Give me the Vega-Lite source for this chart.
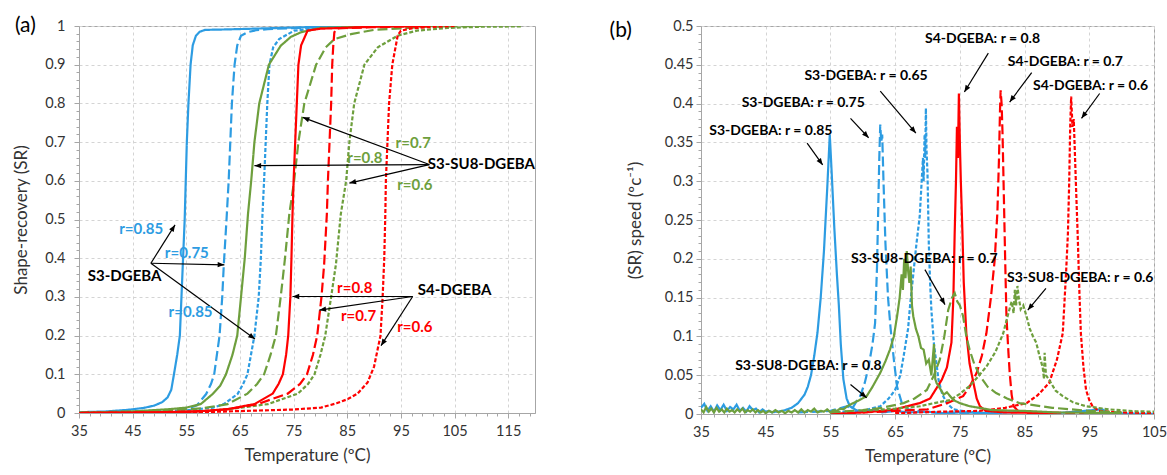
{
"$schema":"https://vega.github.io/schema/vega-lite/v6.json",
"padding":{"left":12,"top":14,"right":0,"bottom":0},
"spacing":73,
"config":{"font":"Lato","view":{"stroke":"#A6A6A6","strokeWidth":1},
 "axis":{"tickCount":200,"domainColor":"#A6A6A6","tickColor":"#A6A6A6","gridColor":"#D4D4D4","gridDash":[3,3],"labelFont":"Lato","labelFontSize":14.5,"labelColor":"#333333","titleFont":"Lato","titleFontSize":17,"titleFontWeight":"normal","titleColor":"#333333","labelOverlap":false,"labelFlush":false}},
"resolve":{"scale":{"x":"independent","y":"independent"}},
"datasets":{
"curvesA":[
{"s":"S3 0.85","T":35,"v":0.002},{"s":"S3 0.85","T":40,"v":0.004},{"s":"S3 0.85","T":44,"v":0.008},{"s":"S3 0.85","T":47,"v":0.013},{"s":"S3 0.85","T":49,"v":0.019},{"s":"S3 0.85","T":50.5,"v":0.028},{"s":"S3 0.85","T":51.5,"v":0.04},{"s":"S3 0.85","T":52.2,"v":0.06},{"s":"S3 0.85","T":52.7,"v":0.1},{"s":"S3 0.85","T":53.3,"v":0.15},{"s":"S3 0.85","T":53.8,"v":0.2},{"s":"S3 0.85","T":54.1,"v":0.3},{"s":"S3 0.85","T":54.4,"v":0.4},{"s":"S3 0.85","T":54.7,"v":0.5},{"s":"S3 0.85","T":54.9,"v":0.6},{"s":"S3 0.85","T":55.1,"v":0.7},{"s":"S3 0.85","T":55.4,"v":0.8},{"s":"S3 0.85","T":55.8,"v":0.9},{"s":"S3 0.85","T":56.2,"v":0.95},{"s":"S3 0.85","T":56.8,"v":0.975},{"s":"S3 0.85","T":57.5,"v":0.985},{"s":"S3 0.85","T":58.5,"v":0.99},{"s":"S3 0.85","T":62,"v":0.991},{"s":"S3 0.85","T":70,"v":0.994},{"s":"S3 0.85","T":80,"v":0.998},{"s":"S3 0.85","T":90,"v":1},
{"s":"S3 0.75","T":35,"v":0.001},{"s":"S3 0.75","T":45,"v":0.004},{"s":"S3 0.75","T":52,"v":0.008},{"s":"S3 0.75","T":55.3,"v":0.012},{"s":"S3 0.75","T":57,"v":0.02},{"s":"S3 0.75","T":58.7,"v":0.049},{"s":"S3 0.75","T":59.6,"v":0.075},{"s":"S3 0.75","T":60.2,"v":0.1},{"s":"S3 0.75","T":61.2,"v":0.2},{"s":"S3 0.75","T":61.7,"v":0.3},{"s":"S3 0.75","T":62,"v":0.385},{"s":"S3 0.75","T":62.5,"v":0.5},{"s":"S3 0.75","T":62.9,"v":0.6},{"s":"S3 0.75","T":63.2,"v":0.7},{"s":"S3 0.75","T":63.5,"v":0.8},{"s":"S3 0.75","T":64,"v":0.9},{"s":"S3 0.75","T":64.5,"v":0.95},{"s":"S3 0.75","T":65.2,"v":0.975},{"s":"S3 0.75","T":66.4,"v":0.984},{"s":"S3 0.75","T":68,"v":0.989},{"s":"S3 0.75","T":70.2,"v":0.992},{"s":"S3 0.75","T":80,"v":0.997},{"s":"S3 0.75","T":90,"v":1},
{"s":"S3 0.65","T":35,"v":0.001},{"s":"S3 0.65","T":45,"v":0.003},{"s":"S3 0.65","T":55,"v":0.007},{"s":"S3 0.65","T":60,"v":0.014},{"s":"S3 0.65","T":62,"v":0.023},{"s":"S3 0.65","T":63.5,"v":0.038},{"s":"S3 0.65","T":64.6,"v":0.05},{"s":"S3 0.65","T":65.6,"v":0.075},{"s":"S3 0.65","T":66.4,"v":0.1},{"s":"S3 0.65","T":67.7,"v":0.2},{"s":"S3 0.65","T":68.5,"v":0.3},{"s":"S3 0.65","T":68.9,"v":0.4},{"s":"S3 0.65","T":69.2,"v":0.514},{"s":"S3 0.65","T":69.5,"v":0.6},{"s":"S3 0.65","T":69.8,"v":0.7},{"s":"S3 0.65","T":70.1,"v":0.8},{"s":"S3 0.65","T":70.5,"v":0.9},{"s":"S3 0.65","T":71.2,"v":0.945},{"s":"S3 0.65","T":72.3,"v":0.966},{"s":"S3 0.65","T":75.1,"v":0.988},{"s":"S3 0.65","T":80,"v":0.995},{"s":"S3 0.65","T":90,"v":1},
{"s":"SU8 0.8","T":35,"v":0.001},{"s":"SU8 0.8","T":45,"v":0.004},{"s":"SU8 0.8","T":52,"v":0.01},{"s":"SU8 0.8","T":55,"v":0.014},{"s":"SU8 0.8","T":57.7,"v":0.023},{"s":"SU8 0.8","T":59.9,"v":0.049},{"s":"SU8 0.8","T":61.3,"v":0.07},{"s":"SU8 0.8","T":62.4,"v":0.1},{"s":"SU8 0.8","T":63.6,"v":0.15},{"s":"SU8 0.8","T":64.5,"v":0.2},{"s":"SU8 0.8","T":65.2,"v":0.3},{"s":"SU8 0.8","T":65.9,"v":0.4},{"s":"SU8 0.8","T":66.5,"v":0.514},{"s":"SU8 0.8","T":67.1,"v":0.6},{"s":"SU8 0.8","T":67.7,"v":0.7},{"s":"SU8 0.8","T":68.6,"v":0.8},{"s":"SU8 0.8","T":70.4,"v":0.9},{"s":"SU8 0.8","T":72.6,"v":0.949},{"s":"SU8 0.8","T":74.5,"v":0.972},{"s":"SU8 0.8","T":76.4,"v":0.984},{"s":"SU8 0.8","T":80,"v":0.995},{"s":"SU8 0.8","T":90,"v":0.999},{"s":"SU8 0.8","T":105,"v":1},
{"s":"SU8 0.7","T":35,"v":0.001},{"s":"SU8 0.7","T":50,"v":0.005},{"s":"SU8 0.7","T":58,"v":0.012},{"s":"SU8 0.7","T":62.7,"v":0.023},{"s":"SU8 0.7","T":66.4,"v":0.05},{"s":"SU8 0.7","T":68.2,"v":0.075},{"s":"SU8 0.7","T":69.5,"v":0.1},{"s":"SU8 0.7","T":70.7,"v":0.15},{"s":"SU8 0.7","T":71.7,"v":0.2},{"s":"SU8 0.7","T":72.6,"v":0.3},{"s":"SU8 0.7","T":73.4,"v":0.4},{"s":"SU8 0.7","T":74.2,"v":0.514},{"s":"SU8 0.7","T":75.1,"v":0.6},{"s":"SU8 0.7","T":75.9,"v":0.7},{"s":"SU8 0.7","T":77,"v":0.8},{"s":"SU8 0.7","T":79.2,"v":0.9},{"s":"SU8 0.7","T":81,"v":0.945},{"s":"SU8 0.7","T":82.6,"v":0.966},{"s":"SU8 0.7","T":85.7,"v":0.979},{"s":"SU8 0.7","T":90,"v":0.99},{"s":"SU8 0.7","T":100,"v":0.998},{"s":"SU8 0.7","T":110,"v":1},
{"s":"SU8 0.6","T":35,"v":0},{"s":"SU8 0.6","T":50,"v":0.002},{"s":"SU8 0.6","T":58,"v":0.005},{"s":"SU8 0.6","T":63,"v":0.01},{"s":"SU8 0.6","T":70.2,"v":0.023},{"s":"SU8 0.6","T":75.8,"v":0.05},{"s":"SU8 0.6","T":77.7,"v":0.075},{"s":"SU8 0.6","T":78.9,"v":0.1},{"s":"SU8 0.6","T":80,"v":0.15},{"s":"SU8 0.6","T":80.9,"v":0.2},{"s":"SU8 0.6","T":82,"v":0.3},{"s":"SU8 0.6","T":82.9,"v":0.385},{"s":"SU8 0.6","T":83.8,"v":0.514},{"s":"SU8 0.6","T":84.8,"v":0.6},{"s":"SU8 0.6","T":85.4,"v":0.7},{"s":"SU8 0.6","T":86.3,"v":0.8},{"s":"SU8 0.6","T":88.2,"v":0.9},{"s":"SU8 0.6","T":90.7,"v":0.945},{"s":"SU8 0.6","T":94.4,"v":0.975},{"s":"SU8 0.6","T":98,"v":0.988},{"s":"SU8 0.6","T":103.7,"v":0.995},{"s":"SU8 0.6","T":110,"v":0.998},{"s":"SU8 0.6","T":117.4,"v":0.999},
{"s":"S4 0.8","T":35,"v":0},{"s":"S4 0.8","T":50,"v":0.002},{"s":"S4 0.8","T":58,"v":0.005},{"s":"S4 0.8","T":62.7,"v":0.01},{"s":"S4 0.8","T":67.7,"v":0.023},{"s":"S4 0.8","T":71.1,"v":0.05},{"s":"S4 0.8","T":72.2,"v":0.075},{"s":"S4 0.8","T":73,"v":0.1},{"s":"S4 0.8","T":73.6,"v":0.15},{"s":"S4 0.8","T":74,"v":0.2},{"s":"S4 0.8","T":74.4,"v":0.3},{"s":"S4 0.8","T":74.6,"v":0.4},{"s":"S4 0.8","T":74.8,"v":0.514},{"s":"S4 0.8","T":75,"v":0.6},{"s":"S4 0.8","T":75.3,"v":0.7},{"s":"S4 0.8","T":75.6,"v":0.8},{"s":"S4 0.8","T":75.9,"v":0.9},{"s":"S4 0.8","T":76.4,"v":0.95},{"s":"S4 0.8","T":77.6,"v":0.988},{"s":"S4 0.8","T":80,"v":0.993},{"s":"S4 0.8","T":90,"v":0.998},{"s":"S4 0.8","T":100,"v":1},
{"s":"S4 0.7","T":35,"v":0},{"s":"S4 0.7","T":50,"v":0.001},{"s":"S4 0.7","T":58,"v":0.004},{"s":"S4 0.7","T":63,"v":0.01},{"s":"S4 0.7","T":68.3,"v":0.023},{"s":"S4 0.7","T":73.9,"v":0.05},{"s":"S4 0.7","T":76.2,"v":0.075},{"s":"S4 0.7","T":77.5,"v":0.1},{"s":"S4 0.7","T":78.6,"v":0.15},{"s":"S4 0.7","T":79.4,"v":0.2},{"s":"S4 0.7","T":80.2,"v":0.3},{"s":"S4 0.7","T":80.7,"v":0.385},{"s":"S4 0.7","T":81.2,"v":0.514},{"s":"S4 0.7","T":81.4,"v":0.6},{"s":"S4 0.7","T":81.7,"v":0.7},{"s":"S4 0.7","T":82,"v":0.8},{"s":"S4 0.7","T":82.2,"v":0.9},{"s":"S4 0.7","T":82.4,"v":0.95},{"s":"S4 0.7","T":82.6,"v":0.984},{"s":"S4 0.7","T":83.2,"v":0.994},{"s":"S4 0.7","T":90,"v":0.997},{"s":"S4 0.7","T":100,"v":1},
{"s":"S4 0.6","T":35,"v":0},{"s":"S4 0.6","T":55,"v":0.001},{"s":"S4 0.6","T":65,"v":0.005},{"s":"S4 0.6","T":75,"v":0.009},{"s":"S4 0.6","T":80.1,"v":0.014},{"s":"S4 0.6","T":83,"v":0.025},{"s":"S4 0.6","T":85.1,"v":0.036},{"s":"S4 0.6","T":86.9,"v":0.05},{"s":"S4 0.6","T":88.8,"v":0.079},{"s":"S4 0.6","T":90,"v":0.12},{"s":"S4 0.6","T":90.6,"v":0.16},{"s":"S4 0.6","T":91.2,"v":0.2},{"s":"S4 0.6","T":91.6,"v":0.3},{"s":"S4 0.6","T":91.9,"v":0.4},{"s":"S4 0.6","T":92.1,"v":0.514},{"s":"S4 0.6","T":92.2,"v":0.6},{"s":"S4 0.6","T":92.5,"v":0.7},{"s":"S4 0.6","T":92.8,"v":0.8},{"s":"S4 0.6","T":93.4,"v":0.9},{"s":"S4 0.6","T":94.4,"v":0.975},{"s":"S4 0.6","T":95,"v":0.988},{"s":"S4 0.6","T":97,"v":0.994},{"s":"S4 0.6","T":100,"v":0.997},{"s":"S4 0.6","T":105,"v":1}
],
"curvesB":[
{"s":"S3 0.85","T":35,"v":0.008},{"s":"S3 0.85","T":35.5,"v":0.013},{"s":"S3 0.85","T":36,"v":0.004},{"s":"S3 0.85","T":36.5,"v":0.01},{"s":"S3 0.85","T":37,"v":0.003},{"s":"S3 0.85","T":37.5,"v":0.011},{"s":"S3 0.85","T":38,"v":0.005},{"s":"S3 0.85","T":38.5,"v":0.012},{"s":"S3 0.85","T":39,"v":0.004},{"s":"S3 0.85","T":39.5,"v":0.009},{"s":"S3 0.85","T":40,"v":0.006},{"s":"S3 0.85","T":40.5,"v":0.012},{"s":"S3 0.85","T":41,"v":0.004},{"s":"S3 0.85","T":41.5,"v":0.008},{"s":"S3 0.85","T":42,"v":0.003},{"s":"S3 0.85","T":42.5,"v":0.01},{"s":"S3 0.85","T":43,"v":0.005},{"s":"S3 0.85","T":43.5,"v":0.007},{"s":"S3 0.85","T":44,"v":0.002},{"s":"S3 0.85","T":44.5,"v":0.006},{"s":"S3 0.85","T":45,"v":0.003},{"s":"S3 0.85","T":45.5,"v":0.004},{"s":"S3 0.85","T":46,"v":0.002},{"s":"S3 0.85","T":46.5,"v":0.003},{"s":"S3 0.85","T":47,"v":0.003},{"s":"S3 0.85","T":48,"v":0.005},{"s":"S3 0.85","T":49,"v":0.008},{"s":"S3 0.85","T":50,"v":0.014},{"s":"S3 0.85","T":51,"v":0.025},{"s":"S3 0.85","T":51.5,"v":0.035},{"s":"S3 0.85","T":52,"v":0.05},{"s":"S3 0.85","T":52.5,"v":0.075},{"s":"S3 0.85","T":53,"v":0.105},{"s":"S3 0.85","T":53.5,"v":0.15},{"s":"S3 0.85","T":54,"v":0.21},{"s":"S3 0.85","T":54.5,"v":0.29},{"s":"S3 0.85","T":54.9,"v":0.36},{"s":"S3 0.85","T":55.2,"v":0.31},{"s":"S3 0.85","T":55.6,"v":0.24},{"s":"S3 0.85","T":56,"v":0.18},{"s":"S3 0.85","T":56.3,"v":0.14},{"s":"S3 0.85","T":56.6,"v":0.09},{"s":"S3 0.85","T":57,"v":0.045},{"s":"S3 0.85","T":57.5,"v":0.02},{"s":"S3 0.85","T":58,"v":0.01},{"s":"S3 0.85","T":59,"v":0.005},{"s":"S3 0.85","T":60,"v":0.003},{"s":"S3 0.85","T":62,"v":0.006},{"s":"S3 0.85","T":63,"v":0.002},{"s":"S3 0.85","T":65,"v":0.004},{"s":"S3 0.85","T":67,"v":0.002},{"s":"S3 0.85","T":70,"v":0.003},{"s":"S3 0.85","T":72,"v":0.001},{"s":"S3 0.85","T":75,"v":0.002},{"s":"S3 0.85","T":80,"v":0.001},{"s":"S3 0.85","T":85,"v":0.003},{"s":"S3 0.85","T":90,"v":0.001},{"s":"S3 0.85","T":97,"v":0.006},{"s":"S3 0.85","T":98,"v":0.001},{"s":"S3 0.85","T":105,"v":0},
{"s":"S3 0.75","T":50,"v":0.002},{"s":"S3 0.75","T":55,"v":0.004},{"s":"S3 0.75","T":57.6,"v":0.01},{"s":"S3 0.75","T":58.3,"v":0.006},{"s":"S3 0.75","T":59,"v":0.016},{"s":"S3 0.75","T":59.6,"v":0.023},{"s":"S3 0.75","T":60.3,"v":0.04},{"s":"S3 0.75","T":60.9,"v":0.061},{"s":"S3 0.75","T":61.5,"v":0.09},{"s":"S3 0.75","T":61.9,"v":0.117},{"s":"S3 0.75","T":62.2,"v":0.19},{"s":"S3 0.75","T":62.4,"v":0.27},{"s":"S3 0.75","T":62.55,"v":0.33},{"s":"S3 0.75","T":62.7,"v":0.373},{"s":"S3 0.75","T":62.85,"v":0.35},{"s":"S3 0.75","T":63,"v":0.36},{"s":"S3 0.75","T":63.2,"v":0.3},{"s":"S3 0.75","T":63.5,"v":0.22},{"s":"S3 0.75","T":63.9,"v":0.15},{"s":"S3 0.75","T":64.3,"v":0.11},{"s":"S3 0.75","T":64.8,"v":0.07},{"s":"S3 0.75","T":65.3,"v":0.035},{"s":"S3 0.75","T":66,"v":0.015},{"s":"S3 0.75","T":67,"v":0.006},{"s":"S3 0.75","T":70,"v":0.002},{"s":"S3 0.75","T":80,"v":0.001},
{"s":"S3 0.65","T":55,"v":0.002},{"s":"S3 0.65","T":60,"v":0.004},{"s":"S3 0.65","T":62.7,"v":0.01},{"s":"S3 0.65","T":64,"v":0.02},{"s":"S3 0.65","T":65,"v":0.031},{"s":"S3 0.65","T":65.8,"v":0.05},{"s":"S3 0.65","T":66.3,"v":0.074},{"s":"S3 0.65","T":67,"v":0.11},{"s":"S3 0.65","T":67.3,"v":0.139},{"s":"S3 0.65","T":67.8,"v":0.18},{"s":"S3 0.65","T":68.3,"v":0.22},{"s":"S3 0.65","T":68.8,"v":0.255},{"s":"S3 0.65","T":69.1,"v":0.3},{"s":"S3 0.65","T":69.3,"v":0.33},{"s":"S3 0.65","T":69.4,"v":0.3},{"s":"S3 0.65","T":69.55,"v":0.36},{"s":"S3 0.65","T":69.65,"v":0.33},{"s":"S3 0.65","T":69.75,"v":0.394},{"s":"S3 0.65","T":69.85,"v":0.34},{"s":"S3 0.65","T":70,"v":0.31},{"s":"S3 0.65","T":70.2,"v":0.22},{"s":"S3 0.65","T":70.4,"v":0.17},{"s":"S3 0.65","T":70.6,"v":0.134},{"s":"S3 0.65","T":71,"v":0.09},{"s":"S3 0.65","T":71.7,"v":0.044},{"s":"S3 0.65","T":72.3,"v":0.025},{"s":"S3 0.65","T":73,"v":0.014},{"s":"S3 0.65","T":74,"v":0.006},{"s":"S3 0.65","T":76,"v":0.003},{"s":"S3 0.65","T":80,"v":0.001},
{"s":"S4 0.8","T":55,"v":0},{"s":"S4 0.8","T":60,"v":0.002},{"s":"S4 0.8","T":63,"v":0.004},{"s":"S4 0.8","T":65,"v":0.006},{"s":"S4 0.8","T":67.8,"v":0.012},{"s":"S4 0.8","T":68.8,"v":0.014},{"s":"S4 0.8","T":70.4,"v":0.02},{"s":"S4 0.8","T":72.2,"v":0.044},{"s":"S4 0.8","T":73,"v":0.06},{"s":"S4 0.8","T":73.7,"v":0.092},{"s":"S4 0.8","T":74,"v":0.15},{"s":"S4 0.8","T":74.2,"v":0.233},{"s":"S4 0.8","T":74.4,"v":0.3},{"s":"S4 0.8","T":74.55,"v":0.37},{"s":"S4 0.8","T":74.7,"v":0.33},{"s":"S4 0.8","T":74.85,"v":0.413},{"s":"S4 0.8","T":75,"v":0.35},{"s":"S4 0.8","T":75.15,"v":0.3},{"s":"S4 0.8","T":75.3,"v":0.26},{"s":"S4 0.8","T":75.4,"v":0.233},{"s":"S4 0.8","T":75.6,"v":0.17},{"s":"S4 0.8","T":76,"v":0.104},{"s":"S4 0.8","T":76.5,"v":0.065},{"s":"S4 0.8","T":77.1,"v":0.04},{"s":"S4 0.8","T":77.6,"v":0.02},{"s":"S4 0.8","T":78.1,"v":0.01},{"s":"S4 0.8","T":79,"v":0.004},{"s":"S4 0.8","T":82,"v":0.002},{"s":"S4 0.8","T":90,"v":0.001},
{"s":"S4 0.7","T":60,"v":0.002},{"s":"S4 0.7","T":65,"v":0.004},{"s":"S4 0.7","T":70,"v":0.006},{"s":"S4 0.7","T":73,"v":0.014},{"s":"S4 0.7","T":75.5,"v":0.023},{"s":"S4 0.7","T":76.5,"v":0.035},{"s":"S4 0.7","T":77.6,"v":0.053},{"s":"S4 0.7","T":78.4,"v":0.075},{"s":"S4 0.7","T":79.1,"v":0.104},{"s":"S4 0.7","T":79.8,"v":0.15},{"s":"S4 0.7","T":80.4,"v":0.2},{"s":"S4 0.7","T":80.8,"v":0.26},{"s":"S4 0.7","T":81.05,"v":0.33},{"s":"S4 0.7","T":81.2,"v":0.39},{"s":"S4 0.7","T":81.3,"v":0.417},{"s":"S4 0.7","T":81.45,"v":0.4},{"s":"S4 0.7","T":81.6,"v":0.36},{"s":"S4 0.7","T":81.8,"v":0.28},{"s":"S4 0.7","T":82,"v":0.2},{"s":"S4 0.7","T":82.2,"v":0.126},{"s":"S4 0.7","T":82.5,"v":0.08},{"s":"S4 0.7","T":82.7,"v":0.053},{"s":"S4 0.7","T":83,"v":0.025},{"s":"S4 0.7","T":83.3,"v":0.01},{"s":"S4 0.7","T":84,"v":0.004},{"s":"S4 0.7","T":88,"v":0.002},{"s":"S4 0.7","T":95,"v":0.001},
{"s":"S4 0.6","T":65,"v":0.001},{"s":"S4 0.6","T":72,"v":0.003},{"s":"S4 0.6","T":78,"v":0.004},{"s":"S4 0.6","T":82,"v":0.008},{"s":"S4 0.6","T":85.3,"v":0.014},{"s":"S4 0.6","T":87,"v":0.024},{"s":"S4 0.6","T":88.8,"v":0.04},{"s":"S4 0.6","T":90,"v":0.07},{"s":"S4 0.6","T":90.9,"v":0.104},{"s":"S4 0.6","T":91.4,"v":0.18},{"s":"S4 0.6","T":91.7,"v":0.233},{"s":"S4 0.6","T":91.9,"v":0.3},{"s":"S4 0.6","T":92.05,"v":0.37},{"s":"S4 0.6","T":92.2,"v":0.409},{"s":"S4 0.6","T":92.4,"v":0.37},{"s":"S4 0.6","T":92.6,"v":0.38},{"s":"S4 0.6","T":92.8,"v":0.33},{"s":"S4 0.6","T":93,"v":0.28},{"s":"S4 0.6","T":93.2,"v":0.233},{"s":"S4 0.6","T":93.5,"v":0.15},{"s":"S4 0.6","T":93.7,"v":0.104},{"s":"S4 0.6","T":94.1,"v":0.06},{"s":"S4 0.6","T":94.5,"v":0.031},{"s":"S4 0.6","T":95,"v":0.018},{"s":"S4 0.6","T":95.5,"v":0.01},{"s":"S4 0.6","T":96.5,"v":0.004},{"s":"S4 0.6","T":100,"v":0.002},{"s":"S4 0.6","T":105,"v":0.001},
{"s":"SU8 0.8","T":35,"v":0.006},{"s":"SU8 0.8","T":35.4,"v":0.002},{"s":"SU8 0.8","T":35.8,"v":0.009},{"s":"SU8 0.8","T":36.2,"v":0.003},{"s":"SU8 0.8","T":36.6,"v":0.007},{"s":"SU8 0.8","T":37,"v":0.002},{"s":"SU8 0.8","T":37.4,"v":0.008},{"s":"SU8 0.8","T":37.8,"v":0.003},{"s":"SU8 0.8","T":38.2,"v":0.006},{"s":"SU8 0.8","T":38.6,"v":0.002},{"s":"SU8 0.8","T":39,"v":0.007},{"s":"SU8 0.8","T":39.4,"v":0.003},{"s":"SU8 0.8","T":39.8,"v":0.005},{"s":"SU8 0.8","T":40.2,"v":0.002},{"s":"SU8 0.8","T":40.6,"v":0.006},{"s":"SU8 0.8","T":41,"v":0.003},{"s":"SU8 0.8","T":41.4,"v":0.007},{"s":"SU8 0.8","T":41.8,"v":0.002},{"s":"SU8 0.8","T":42.2,"v":0.005},{"s":"SU8 0.8","T":42.6,"v":0.003},{"s":"SU8 0.8","T":43,"v":0.006},{"s":"SU8 0.8","T":43.4,"v":0.002},{"s":"SU8 0.8","T":43.8,"v":0.005},{"s":"SU8 0.8","T":44.2,"v":0.002},{"s":"SU8 0.8","T":44.6,"v":0.004},{"s":"SU8 0.8","T":45,"v":0.001},{"s":"SU8 0.8","T":45.5,"v":0.004},{"s":"SU8 0.8","T":46,"v":0.002},{"s":"SU8 0.8","T":46.5,"v":0.005},{"s":"SU8 0.8","T":47,"v":0.002},{"s":"SU8 0.8","T":47.5,"v":0.004},{"s":"SU8 0.8","T":48,"v":0.001},{"s":"SU8 0.8","T":48.5,"v":0.004},{"s":"SU8 0.8","T":49,"v":0.002},{"s":"SU8 0.8","T":49.5,"v":0.005},{"s":"SU8 0.8","T":50,"v":0.002},{"s":"SU8 0.8","T":50.5,"v":0.006},{"s":"SU8 0.8","T":51,"v":0.002},{"s":"SU8 0.8","T":51.5,"v":0.005},{"s":"SU8 0.8","T":52,"v":0.003},{"s":"SU8 0.8","T":52.5,"v":0.007},{"s":"SU8 0.8","T":53,"v":0.002},{"s":"SU8 0.8","T":53.5,"v":0.004},{"s":"SU8 0.8","T":54,"v":0.003},{"s":"SU8 0.8","T":54.5,"v":0.006},{"s":"SU8 0.8","T":55,"v":0.002},{"s":"SU8 0.8","T":55.5,"v":0.005},{"s":"SU8 0.8","T":56,"v":0.004},{"s":"SU8 0.8","T":56.5,"v":0.007},{"s":"SU8 0.8","T":57,"v":0.006},{"s":"SU8 0.8","T":57.6,"v":0.01},{"s":"SU8 0.8","T":58.5,"v":0.014},{"s":"SU8 0.8","T":59.5,"v":0.018},{"s":"SU8 0.8","T":60.6,"v":0.023},{"s":"SU8 0.8","T":61.5,"v":0.035},{"s":"SU8 0.8","T":62.7,"v":0.053},{"s":"SU8 0.8","T":63.5,"v":0.068},{"s":"SU8 0.8","T":64.2,"v":0.083},{"s":"SU8 0.8","T":64.8,"v":0.1},{"s":"SU8 0.8","T":65.3,"v":0.126},{"s":"SU8 0.8","T":65.7,"v":0.15},{"s":"SU8 0.8","T":66,"v":0.18},{"s":"SU8 0.8","T":66.2,"v":0.16},{"s":"SU8 0.8","T":66.4,"v":0.2},{"s":"SU8 0.8","T":66.6,"v":0.175},{"s":"SU8 0.8","T":66.8,"v":0.21},{"s":"SU8 0.8","T":67,"v":0.185},{"s":"SU8 0.8","T":67.2,"v":0.169},{"s":"SU8 0.8","T":67.4,"v":0.19},{"s":"SU8 0.8","T":67.6,"v":0.14},{"s":"SU8 0.8","T":67.8,"v":0.126},{"s":"SU8 0.8","T":68.2,"v":0.11},{"s":"SU8 0.8","T":68.6,"v":0.1},{"s":"SU8 0.8","T":69,"v":0.085},{"s":"SU8 0.8","T":69.4,"v":0.083},{"s":"SU8 0.8","T":69.8,"v":0.065},{"s":"SU8 0.8","T":70.2,"v":0.07},{"s":"SU8 0.8","T":70.6,"v":0.05},{"s":"SU8 0.8","T":71,"v":0.09},{"s":"SU8 0.8","T":71.2,"v":0.045},{"s":"SU8 0.8","T":71.4,"v":0.04},{"s":"SU8 0.8","T":72,"v":0.032},{"s":"SU8 0.8","T":72.5,"v":0.025},{"s":"SU8 0.8","T":73,"v":0.028},{"s":"SU8 0.8","T":74,"v":0.018},{"s":"SU8 0.8","T":75,"v":0.014},{"s":"SU8 0.8","T":76.5,"v":0.01},{"s":"SU8 0.8","T":78,"v":0.008},{"s":"SU8 0.8","T":80,"v":0.005},{"s":"SU8 0.8","T":85,"v":0.004},{"s":"SU8 0.8","T":90,"v":0.002},{"s":"SU8 0.8","T":100,"v":0.001},
{"s":"SU8 0.7","T":55,"v":0.002},{"s":"SU8 0.7","T":60,"v":0.005},{"s":"SU8 0.7","T":63,"v":0.008},{"s":"SU8 0.7","T":66.3,"v":0.014},{"s":"SU8 0.7","T":68,"v":0.02},{"s":"SU8 0.7","T":69.9,"v":0.031},{"s":"SU8 0.7","T":71,"v":0.05},{"s":"SU8 0.7","T":71.9,"v":0.07},{"s":"SU8 0.7","T":72.6,"v":0.1},{"s":"SU8 0.7","T":73.2,"v":0.134},{"s":"SU8 0.7","T":73.8,"v":0.15},{"s":"SU8 0.7","T":74.2,"v":0.156},{"s":"SU8 0.7","T":74.6,"v":0.145},{"s":"SU8 0.7","T":75,"v":0.14},{"s":"SU8 0.7","T":75.5,"v":0.126},{"s":"SU8 0.7","T":76,"v":0.1},{"s":"SU8 0.7","T":76.5,"v":0.083},{"s":"SU8 0.7","T":77.2,"v":0.065},{"s":"SU8 0.7","T":78.1,"v":0.049},{"s":"SU8 0.7","T":79.3,"v":0.035},{"s":"SU8 0.7","T":80.6,"v":0.027},{"s":"SU8 0.7","T":82.3,"v":0.02},{"s":"SU8 0.7","T":84.2,"v":0.014},{"s":"SU8 0.7","T":89.3,"v":0.008},{"s":"SU8 0.7","T":95,"v":0.004},{"s":"SU8 0.7","T":100,"v":0.002},
{"s":"SU8 0.6","T":60,"v":0.004},{"s":"SU8 0.6","T":65,"v":0.007},{"s":"SU8 0.6","T":68.8,"v":0.01},{"s":"SU8 0.6","T":71,"v":0.014},{"s":"SU8 0.6","T":73.5,"v":0.018},{"s":"SU8 0.6","T":75,"v":0.026},{"s":"SU8 0.6","T":76.5,"v":0.036},{"s":"SU8 0.6","T":78,"v":0.05},{"s":"SU8 0.6","T":79.1,"v":0.061},{"s":"SU8 0.6","T":80.5,"v":0.08},{"s":"SU8 0.6","T":81.7,"v":0.104},{"s":"SU8 0.6","T":82.5,"v":0.13},{"s":"SU8 0.6","T":83,"v":0.145},{"s":"SU8 0.6","T":83.3,"v":0.13},{"s":"SU8 0.6","T":83.5,"v":0.16},{"s":"SU8 0.6","T":83.7,"v":0.14},{"s":"SU8 0.6","T":83.9,"v":0.165},{"s":"SU8 0.6","T":84.1,"v":0.15},{"s":"SU8 0.6","T":84.4,"v":0.135},{"s":"SU8 0.6","T":84.8,"v":0.14},{"s":"SU8 0.6","T":85.3,"v":0.126},{"s":"SU8 0.6","T":85.8,"v":0.11},{"s":"SU8 0.6","T":86.3,"v":0.1},{"s":"SU8 0.6","T":86.8,"v":0.092},{"s":"SU8 0.6","T":87.3,"v":0.075},{"s":"SU8 0.6","T":87.8,"v":0.06},{"s":"SU8 0.6","T":88,"v":0.045},{"s":"SU8 0.6","T":88.1,"v":0.079},{"s":"SU8 0.6","T":88.3,"v":0.05},{"s":"SU8 0.6","T":88.8,"v":0.044},{"s":"SU8 0.6","T":89.8,"v":0.03},{"s":"SU8 0.6","T":90.9,"v":0.023},{"s":"SU8 0.6","T":92.5,"v":0.015},{"s":"SU8 0.6","T":94.5,"v":0.01},{"s":"SU8 0.6","T":98,"v":0.006},{"s":"SU8 0.6","T":102.2,"v":0.0035},{"s":"SU8 0.6","T":105,"v":0.003}
],
"labA":[
{"t":"S3-DGEBA","g":"note","T":43.5,"v":0.354},
{"t":"r=0.85","g":"S3","T":46.6,"v":0.475},
{"t":"r=0.75","g":"S3","T":55.1,"v":0.413},
{"t":"r=0.85","g":"S3","T":55.8,"v":0.262},
{"t":"S3-SU8-DGEBA","g":"note","T":110,"v":0.643},
{"t":"r=0.7","g":"SU8","T":97.3,"v":0.698},
{"t":"r=0.8","g":"SU8","T":88.3,"v":0.658},
{"t":"r=0.6","g":"SU8","T":97.6,"v":0.59},
{"t":"S4-DGEBA","g":"note","T":105,"v":0.318},
{"t":"r=0.8","g":"S4","T":86.4,"v":0.323},
{"t":"r=0.7","g":"S4","T":87.1,"v":0.251},
{"t":"r=0.6","g":"S4","T":97.6,"v":0.221}
],
"arrA":[
{"T":48.4,"v":0.387,"T2":52.9,"v2":0.486},
{"T":48.4,"v":0.387,"T2":62.1,"v2":0.383},
{"T":48.4,"v":0.387,"T2":67.8,"v2":0.191},
{"T":100.3,"v":0.642,"T2":76.7,"v2":0.764},
{"T":100.3,"v":0.642,"T2":67.7,"v2":0.639},
{"T":100.3,"v":0.642,"T2":85.4,"v2":0.594},
{"T":97.2,"v":0.301,"T2":74.8,"v2":0.301},
{"T":97.2,"v":0.301,"T2":79.8,"v2":0.266},
{"T":97.2,"v":0.301,"T2":91.3,"v2":0.174}
],
"labB":[
{"t":"S3-DGEBA: r = 0.85","g":"note","T":45.8,"v":0.365},
{"t":"S3-DGEBA: r = 0.75","g":"note","T":50.8,"v":0.401},
{"t":"S3-DGEBA: r = 0.65","g":"note","T":60.5,"v":0.436},
{"t":"S4-DGEBA: r = 0.8","g":"note","T":78.5,"v":0.483},
{"t":"S4-DGEBA: r = 0.7","g":"note","T":91.3,"v":0.454},
{"t":"S4-DGEBA: r = 0.6","g":"note","T":95.2,"v":0.423},
{"t":"S3-SU8-DGEBA: r = 0.8","g":"note","T":51.6,"v":0.0615},
{"t":"S3-SU8-DGEBA: r = 0.7","g":"note","T":69.5,"v":0.2},
{"t":"S3-SU8-DGEBA: r = 0.6","g":"note","T":93.6,"v":0.175}
],
"arrB":[
{"T":51.4,"v":0.349,"T2":53.8,"v2":0.321},
{"T":58.1,"v":0.381,"T2":60.9,"v2":0.356},
{"T":62.7,"v":0.416,"T2":68.2,"v2":0.362},
{"T":79.4,"v":0.465,"T2":75.7,"v2":0.415},
{"T":86.1,"v":0.44,"T2":82.7,"v2":0.402},
{"T":96.6,"v":0.413,"T2":93.8,"v2":0.381},
{"T":58.1,"v":0.038,"T2":60.6,"v2":0.021},
{"T":69.6,"v":0.186,"T2":72.7,"v2":0.141},
{"T":88.3,"v":0.162,"T2":85.5,"v2":0.134}
]
},
"hconcat":[
{
"width":456,"height":387,
"layer":[
{"data":{"name":"curvesA"},"mark":{"type":"line","strokeWidth":2.2,"clip":true},
 "encoding":{
  "x":{"field":"T","type":"quantitative","title":"Temperature (ºC)","scale":{"domain":[35,120],"nice":false,"zero":false},
   "axis":{"tickCount":200,"values":[35,37,39,41,43,45,47,49,51,53,55,57,59,61,63,65,67,69,71,73,75,77,79,81,83,85,87,89,91,93,95,97,99,101,103,105,107,109,111,113,115,117,119],
    "labelExpr":"(datum.value-35)%10==0 ? format(datum.value,'d') : ''",
    "tickSize":{"condition":{"test":"(datum.value-35)%10==0","value":5},"value":3},
    "gridOpacity":{"condition":{"test":"(datum.value-35)%10==0","value":1},"value":0},
    "labelPadding":6,"titlePadding":10}},
  "y":{"field":"v","type":"quantitative","title":"Shape-recovery (SR)","scale":{"domain":[0,1],"nice":false},
   "axis":{"tickCount":200,"values":[0,0.02,0.04,0.06,0.08,0.1,0.12,0.14,0.16,0.18,0.2,0.22,0.24,0.26,0.28,0.3,0.32,0.34,0.36,0.38,0.4,0.42,0.44,0.46,0.48,0.5,0.52,0.54,0.56,0.58,0.6,0.62,0.64,0.66,0.68,0.7,0.72,0.74,0.76,0.78,0.8,0.82,0.84,0.86,0.88,0.9,0.92,0.94,0.96,0.98,1],
    "labelExpr":"abs(datum.value*10-round(datum.value*10))<0.000001 ? format(datum.value,'~g') : ''",
    "tickSize":{"condition":{"test":"abs(datum.value*10-round(datum.value*10))<0.000001","value":5},"value":3},
    "gridOpacity":{"condition":{"test":"abs(datum.value*10-round(datum.value*10))<0.000001","value":1},"value":0},
    "labelPadding":9,"titlePadding":14}},
  "color":{"field":"s","type":"nominal","legend":null,"scale":{"domain":["S3 0.85","S3 0.75","S3 0.65","SU8 0.8","SU8 0.7","SU8 0.6","S4 0.8","S4 0.7","S4 0.6"],"range":["#2D9CE2","#2D9CE2","#2D9CE2","#6E9F3D","#6E9F3D","#6E9F3D","#FF0000","#FF0000","#FF0000"]}},
  "strokeDash":{"field":"s","type":"nominal","legend":null,"scale":{"domain":["S3 0.85","S3 0.75","S3 0.65","SU8 0.8","SU8 0.7","SU8 0.6","S4 0.8","S4 0.7","S4 0.6"],"range":[[1,0],[10,4],[4,2],[1,0],[10,4],[4,2],[1,0],[10,4],[4,2]]}}
 }},
{"data":{"name":"arrA"},"mark":{"type":"rule","color":"#000000","strokeWidth":1.2},
 "encoding":{"x":{"field":"T","type":"quantitative","title":"Temperature (ºC)"},"y":{"field":"v","type":"quantitative","title":"Shape-recovery (SR)"},"x2":{"field":"T2"},"y2":{"field":"v2"}}},
{"data":{"name":"arrA"},"mark":{"type":"point","filled":true,"color":"#000000","opacity":1,"size":180,"shape":"M0,0L0.4,1L-0.4,1Z","angle":{"expr":"atan2((datum.T2-datum.T)*5.365,(datum.v2-datum.v)*387)*180/PI"}},
 "encoding":{"x":{"field":"T2","type":"quantitative","title":"Temperature (ºC)"},"y":{"field":"v2","type":"quantitative","title":"Shape-recovery (SR)"}}},
{"data":{"name":"labA"},"mark":{"type":"text","fontWeight":"bold","fontSize":15,"font":"Lato","align":"center","baseline":"middle"},
 "encoding":{"x":{"field":"T","type":"quantitative","title":"Temperature (ºC)"},"y":{"field":"v","type":"quantitative","title":"Shape-recovery (SR)"},"text":{"field":"t"},
  "fill":{"field":"g","type":"nominal","legend":null,"scale":{"domain":["S3","SU8","S4","note"],"range":["#2D9CE2","#6E9F3D","#FF0000","#000000"]}}}},
{"data":{"values":[{"t":"(a)","T":25,"v":1.0}]},"mark":{"type":"text","fontSize":21,"font":"Lato","align":"center","baseline":"middle","color":"#000000"},
 "encoding":{"x":{"field":"T","type":"quantitative","title":"Temperature (ºC)"},"y":{"field":"v","type":"quantitative","title":"Shape-recovery (SR)"},"text":{"field":"t"}}}
]
},
{
"width":453,"height":388,
"layer":[
{"data":{"name":"curvesB"},"mark":{"type":"line","strokeWidth":2.2,"clip":true},
 "encoding":{
  "x":{"field":"T","type":"quantitative","title":"Temperature (ºC)","scale":{"domain":[35,105],"nice":false,"zero":false},
   "axis":{"tickCount":200,"values":[35,37,39,41,43,45,47,49,51,53,55,57,59,61,63,65,67,69,71,73,75,77,79,81,83,85,87,89,91,93,95,97,99,101,103,105],
    "labelExpr":"(datum.value-35)%10==0 ? format(datum.value,'d') : ''",
    "tickSize":{"condition":{"test":"(datum.value-35)%10==0","value":5},"value":3},
    "gridOpacity":{"condition":{"test":"(datum.value-35)%10==0","value":1},"value":0},
    "labelPadding":6,"titlePadding":10}},
  "y":{"field":"v","type":"quantitative","title":"(SR) speed (ºc⁻¹)","scale":{"domain":[0,0.5],"nice":false},
   "axis":{"tickCount":200,"values":[0,0.01,0.02,0.03,0.04,0.05,0.06,0.07,0.08,0.09,0.1,0.11,0.12,0.13,0.14,0.15,0.16,0.17,0.18,0.19,0.2,0.21,0.22,0.23,0.24,0.25,0.26,0.27,0.28,0.29,0.3,0.31,0.32,0.33,0.34,0.35,0.36,0.37,0.38,0.39,0.4,0.41,0.42,0.43,0.44,0.45,0.46,0.47,0.48,0.49,0.5],
    "labelExpr":"abs(datum.value*20-round(datum.value*20))<0.000001 ? format(datum.value,'~g') : ''",
    "tickSize":{"condition":{"test":"abs(datum.value*20-round(datum.value*20))<0.000001","value":5},"value":3},
    "gridOpacity":{"condition":{"test":"abs(datum.value*20-round(datum.value*20))<0.000001","value":1},"value":0},
    "labelPadding":3,"titlePadding":20}},
  "color":{"field":"s","type":"nominal","legend":null,"scale":{"domain":["S3 0.85","S3 0.75","S3 0.65","SU8 0.8","SU8 0.7","SU8 0.6","S4 0.8","S4 0.7","S4 0.6"],"range":["#2D9CE2","#2D9CE2","#2D9CE2","#6E9F3D","#6E9F3D","#6E9F3D","#FF0000","#FF0000","#FF0000"]}},
  "strokeDash":{"field":"s","type":"nominal","legend":null,"scale":{"domain":["S3 0.85","S3 0.75","S3 0.65","SU8 0.8","SU8 0.7","SU8 0.6","S4 0.8","S4 0.7","S4 0.6"],"range":[[1,0],[10,4],[4,2],[1,0],[10,4],[4,2],[1,0],[10,4],[4,2]]}}
 }},
{"data":{"name":"arrB"},"mark":{"type":"rule","color":"#000000","strokeWidth":1.2},
 "encoding":{"x":{"field":"T","type":"quantitative","title":"Temperature (ºC)"},"y":{"field":"v","type":"quantitative","title":"(SR) speed (ºc⁻¹)"},"x2":{"field":"T2"},"y2":{"field":"v2"}}},
{"data":{"name":"arrB"},"mark":{"type":"point","filled":true,"color":"#000000","opacity":1,"size":180,"shape":"M0,0L0.4,1L-0.4,1Z","angle":{"expr":"atan2((datum.T2-datum.T)*6.47,(datum.v2-datum.v)*776)*180/PI"}},
 "encoding":{"x":{"field":"T2","type":"quantitative","title":"Temperature (ºC)"},"y":{"field":"v2","type":"quantitative","title":"(SR) speed (ºc⁻¹)"}}},
{"data":{"name":"labB"},"mark":{"type":"text","fontWeight":"bold","fontSize":14,"font":"Lato","align":"center","baseline":"middle","color":"#000000"},
 "encoding":{"x":{"field":"T","type":"quantitative","title":"Temperature (ºC)"},"y":{"field":"v","type":"quantitative","title":"(SR) speed (ºc⁻¹)"},"text":{"field":"t"}}},
{"data":{"values":[{"t":"(b)","T":22.6,"v":0.493}]},"mark":{"type":"text","fontSize":21,"font":"Lato","align":"center","baseline":"middle","color":"#000000"},
 "encoding":{"x":{"field":"T","type":"quantitative","title":"Temperature (ºC)"},"y":{"field":"v","type":"quantitative","title":"(SR) speed (ºc⁻¹)"},"text":{"field":"t"}}}
]
}
]
}
